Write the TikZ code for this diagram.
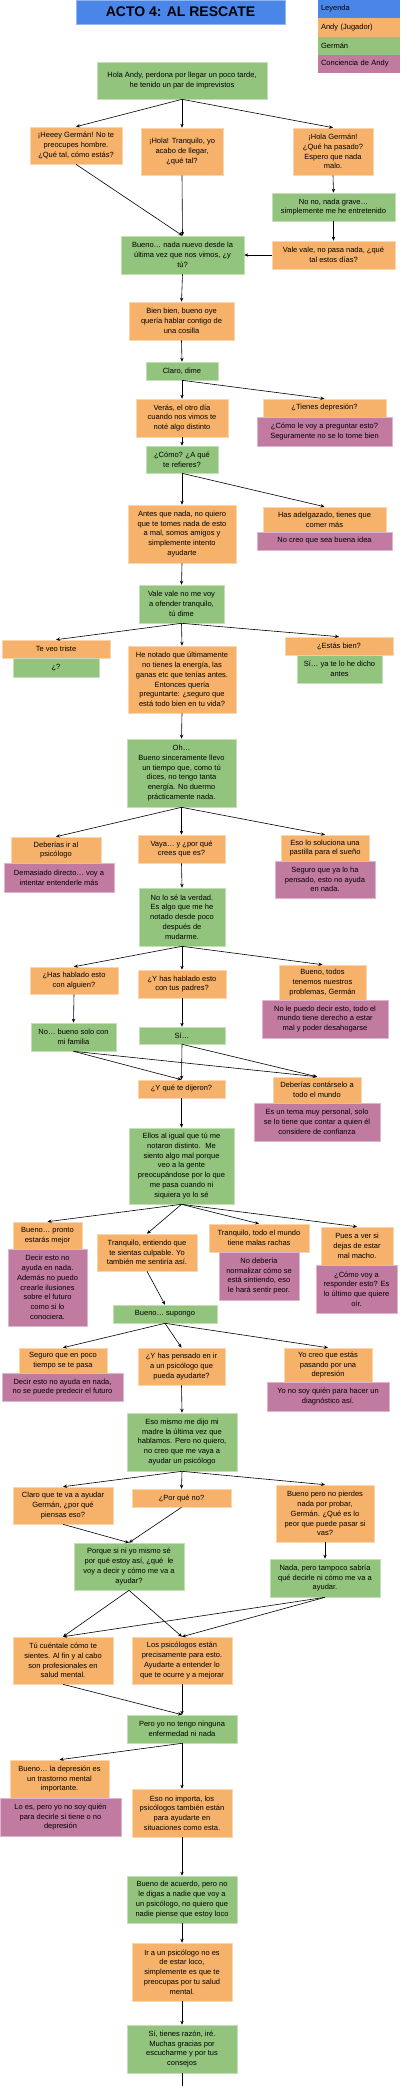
\documentclass[tikz,border=0pt]{standalone}
\usepackage{fontspec}
\setmainfont{Liberation Sans}
\usepackage{tikz}
\usetikzlibrary{arrows.meta}
\definecolor{andyc}{HTML}{F6B26B}
\definecolor{germanc}{HTML}{93C47D}
\definecolor{concc}{HTML}{C27BA0}
\definecolor{titlec}{HTML}{4A86E8}
\begin{document}
\begin{tikzpicture}[x=1pt,y=-1pt,
  box/.style={rectangle,inner sep=0pt,align=center,font=\fontsize{7.5}{9.8}\selectfont},
  sz/.style 2 args={minimum width=#1,minimum height=#2},
  andy/.style={box,fill=andyc,draw=andyc!55!white,line width=0.6pt},
  german/.style={box,fill=germanc,draw=germanc!55!white,line width=0.6pt},
  conc/.style={box,fill=concc,draw=concc!55!white,line width=0.6pt},
  leg/.style={rectangle,inner sep=0pt,text width=76pt,align=left,minimum width=82,font=\fontsize{7.5}{9.8}\selectfont},
  arr/.style={-{Stealth[length=4pt,width=3.4pt]},line width=0.6pt}]
\useasboundingbox (0,0) rectangle (400,2086);
% title and legend
\node[rectangle,fill=titlec,draw=titlec!60!white,sz={209}{24},font=\fontsize{14}{16}\selectfont\bfseries] (title) at (180.5,12) {ACTO 4: AL RESCATE};
\node[leg,fill=titlec,minimum height=18] (leyenda) at (359,9) {Leyenda};
\node[leg,fill=andyc,minimum height=19] (legandy) at (359,27.5) {Andy (Jugador)};
\node[leg,fill=germanc,minimum height=18] (leggerman) at (359,46) {Germán};
\node[leg,fill=concc,minimum height=18] (legconc) at (359,64) {Conciencia de Andy};
% dialogue
\node[german,sz={170}{37}] (hola) at (182,80.5) {Hola Andy, perdona por llegar un poco tarde,\\he tenido un par de imprevistos};
\node[andy,sz={92}{37}] (heeey) at (76,145.5) {¡Heeey Germán! No te\\preocupes hombre.\\¿Qué tal, cómo estás?};
\node[andy,sz={82}{47}] (tranq) at (182,151.5) {¡Hola! Tranquilo, yo\\acabo de llegar,\\¿qué tal?};
\node[andy,sz={80}{47}] (holag) at (333,151.5) {¡Hola Germán!\\¿Qué ha pasado?\\Espero que nada\\malo.};
\node[german,sz={123}{28}] (nono) at (333.5,207) {No no, nada grave…\\simplemente me he entretenido};
\node[andy,sz={123}{28}] (valevale) at (333.5,255) {Vale vale, no pasa nada, ¿qué\\tal estos días?};
\node[german,sz={123}{38}] (bueno) at (182.5,255) {Bueno… nada nuevo desde la\\última vez que nos vimos, ¿y\\tú?};
\node[andy,sz={105}{38}] (bien) at (181.5,321) {Bien bien, bueno oye\\quería hablar contigo de\\una cosilla};
\node[german,sz={72}{18}] (claro) at (182,371) {Claro, dime};
\node[andy,sz={92}{38}] (veras) at (182,418) {Verás, el otro día\\cuando nos vimos te\\noté algo distinto};
\node[andy,sz={123}{18}] (tienes) at (324.5,408) {¿Tienes depresión?};
\node[conc,sz={135}{29}] (tienesc) at (324.5,431.5) {¿Cómo le voy a preguntar esto?\\Seguramente no se lo tome bien};
\node[german,sz={72}{27}] (como) at (182,459.5) {¿Cómo? ¿A qué\\te refieres?};
\node[andy,sz={108}{58}] (antes) at (182,534) {Antes que nada, no quiero\\que te tomes nada de esto\\a mal, somos amigos y\\simplemente intento\\ayudarte};
\node[andy,sz={123}{25}] (adelg) at (324.5,519.5) {Has adelgazado, tienes que\\comer más};
\node[conc,sz={135}{18}] (adelgc) at (324.5,541) {No creo que sea buena idea};
\node[german,sz={85}{38}] (valeno) at (181.5,604) {Vale vale no me voy\\a ofender tranquilo,\\tú dime};
\node[andy,sz={108}{18}] (triste) at (56,649) {Te veo triste};
\node[german,sz={86}{19}] (tristeg) at (56,667.5) {¿?};
\node[andy,sz={108}{67}] (notado) at (182,679.5) {He notado que últimamente\\no tienes la energía, las\\ganas etc que tenías antes.\\Entonces quería\\preguntarte: ¿seguro que\\está todo bien en tu vida?};
\node[andy,sz={108}{18}] (estas) at (339,646) {¿Estás bien?};
\node[german,sz={85}{28}] (estasg) at (339.5,669) {Sí… ya te lo he dicho\\antes};
\node[german,sz={109}{68}] (oh) at (181.5,773) {Oh…\\Bueno sinceramente llevo\\un tiempo que, como tú\\dices, no tengo tanta\\energía. No duermo\\prácticamente nada.};
\node[andy,sz={90}{26}] (psico) at (56,850) {Deberías ir al\\psicólogo};
\node[conc,sz={110}{29}] (psicoc) at (59,877.5) {Demasiado directo… voy a\\intentar entenderle más};
\node[andy,sz={87}{28}] (vaya) at (181.5,849) {Vaya… y ¿por qué\\crees que es?};
\node[andy,sz={88}{26}] (pastilla) at (325,848) {Eso lo soluciona una\\pastilla para el sueño};
\node[conc,sz={100}{37}] (pastillac) at (325,879.5) {Seguro que ya lo ha\\pensado, esto no ayuda\\en nada.};
\node[german,sz={86}{58}] (nolose) at (182,917) {No lo sé la verdad.\\Es algo que me he\\notado desde poco\\después de\\mudarme.};
\node[andy,sz={88}{27}] (alguien) at (74,980.5) {¿Has hablado esto\\con alguien?};
\node[andy,sz={88}{28}] (padres) at (182,984) {¿Y has hablado esto\\con tus padres?};
\node[andy,sz={87}{35}] (todos) at (322.5,982.5) {Bueno, todos\\tenemos nuestros\\problemas, Germán};
\node[conc,sz={126}{38}] (todosc) at (325,1019) {No le puedo decir esto, todo el\\mundo tiene derecho a estar\\mal y poder desahogarse};
\node[german,sz={85}{28}] (familia) at (73.5,1037) {No… bueno solo con\\mi familia};
\node[german,sz={86}{17}] (si) at (182,1035.5) {Sí…};
\node[andy,sz={87}{18}] (dijeron) at (181.5,1089) {¿Y qué te dijeron?};
\node[andy,sz={88}{26}] (contar) at (317,1090) {Deberías contárselo a\\todo el mundo};
\node[conc,sz={126}{38}] (contarc) at (317,1122) {Es un tema muy personal, solo\\se lo tiene que contar a quien él\\considere de confianza};
\node[german,sz={105}{76}] (ellos) at (181.5,1166) {Ellos al igual que tú me\\notaron distinto.~ Me\\siento algo mal porque\\veo a la gente\\preocupándose por lo que\\me pasa cuando ni\\siquiera yo lo sé};
\node[andy,sz={69}{27}] (pronto) at (47.5,1235.5) {Bueno… pronto\\estarás mejor};
\node[conc,sz={79}{77}] (prontoc) at (47.5,1287.5) {Decir esto no\\ayuda en nada.\\Además no puedo\\crearle ilusiones\\sobre el futuro\\como si lo\\conociera.};
\node[andy,sz={100}{37}] (culpable) at (147,1252.5) {Tranquilo, entiendo que\\te sientas culpable. Yo\\también me sentiría así.};
\node[andy,sz={100}{28}] (rachas) at (259,1238) {Tranquilo, todo el mundo\\tiene malas rachas};
\node[conc,sz={80}{48}] (rachasc) at (259,1276) {No debería\\normalizar cómo se\\está sintiendo, eso\\le hará sentir peor.};
\node[andy,sz={72}{38}] (macho) at (357,1246) {Pues a ver si\\dejas de estar\\mal macho.};
\node[conc,sz={81}{48}] (machoc) at (356.5,1289) {¿Cómo voy a\\responder esto? Es\\lo último que quiere\\oír.};
\node[german,sz={104}{18}] (supongo) at (165,1314) {Bueno… supongo};
\node[andy,sz={88}{25}] (pasa) at (63,1360.5) {Seguro que en poco\\tiempo se te pasa};
\node[conc,sz={121}{28}] (pasac) at (62.5,1387) {Decir esto no ayuda en nada,\\no se puede predecir el futuro};
\node[andy,sz={87}{37}] (pensado) at (181.5,1366.5) {¿Y has pensado en ir\\a un psicólogo que\\pueda ayudarte?};
\node[andy,sz={88}{34}] (depre) at (328,1365) {Yo creo que estás\\pasando por una\\depresión};
\node[conc,sz={122}{29}] (deprec) at (328,1396.5) {Yo no soy quién para hacer un\\diagnóstico así.};
\node[german,sz={110}{58}] (madre) at (182,1442) {Eso mismo me dijo mi\\madre la última vez que\\hablamos. Pero no quiero,\\no creo que me vaya a\\ayudar un psicólogo};
\node[andy,sz={100}{37}] (ayudar) at (63,1505.5) {Claro que te va a ayudar\\Germán, ¿por qué\\piensas eso?};
\node[andy,sz={99}{18}] (porque) at (181.5,1498) {¿Por qué no?};
\node[andy,sz={98}{57}] (probar) at (325,1513.5) {Bueno pero no pierdes\\nada por probar,\\Germán. ¿Qué es lo\\peor que puede pasar si\\vas?};
\node[german,sz={110}{47}] (nisiquiera) at (129,1566.5) {Porque si ni yo mismo sé\\por qué estoy así, ¿qué~ le\\voy a decir y cómo me va a\\ayudar?};
\node[german,sz={110}{38}] (sabria) at (325,1578) {Nada, pero tampoco sabría\\qué decirle ni cómo me va a\\ayudar.};
\node[andy,sz={100}{47}] (cuentale) at (63,1660.5) {Tú cuéntale cómo te\\sientes. Al fin y al cabo\\son profesionales en\\salud mental.};
\node[andy,sz={100}{47}] (estan) at (182,1660.5) {Los psicólogos están\\precisamente para esto.\\Ayudarte a entender lo\\que te ocurre y a mejorar};
\node[german,sz={110}{28}] (enfermedad) at (182,1729) {Pero yo no tengo ninguna\\enfermedad ni nada};
\node[andy,sz={99}{38}] (trastorno) at (59.5,1779) {Bueno… la depresión es\\un trastorno mental\\importante.};
\node[conc,sz={121}{38}] (trastornoc) at (60.5,1817) {Lo es, pero yo no soy quién\\para decirle si tiene o no\\depresión};
\node[andy,sz={100}{48}] (importa) at (182,1813) {Eso no importa, los\\psicólogos también están\\para ayudarte en\\situaciones como esta.};
\node[german,sz={110}{47}] (acuerdo) at (182,1899.5) {Bueno de acuerdo, pero no\\le digas a nadie que voy a\\un psicólogo, no quiero que\\nadie piense que estoy loco};
\node[andy,sz={100}{58}] (loco) at (182,1972) {Ir a un psicólogo no es\\de estar loco,\\simplemente es que te\\preocupas por tu salud\\mental.};
\node[german,sz={110}{48}] (razon) at (182,2049) {Sí, tienes razón, iré.\\Muchas gracias por\\escucharme y por tus\\consejos};
\coordinate (fin) at (182,2086);
% connectors
\foreach \a/\b in {hola/heeey,hola/tranq,hola/holag,heeey/bueno,tranq/bueno,
  holag/nono,nono/valevale,bueno/bien,bien/claro,claro/veras,claro/tienes,
  veras/como,como/antes,como/adelg,antes/valeno,valeno/triste,valeno/notado,
  valeno/estas,notado/oh,oh/psico,oh/vaya,oh/pastilla,vaya/nolose,
  nolose/alguien,nolose/padres,nolose/todos,alguien/familia,padres/si,
  familia/dijeron,familia/contar,si/dijeron,si/contar,dijeron/ellos,
  ellos/pronto,ellos/culpable,ellos/rachas,ellos/macho,culpable/supongo,
  supongo/pasa,supongo/pensado,supongo/depre,pensado/madre,madre/ayudar,
  madre/porque,madre/probar,ayudar/nisiquiera,porque/nisiquiera,probar/sabria,
  nisiquiera/cuentale,nisiquiera/estan,sabria/cuentale,sabria/estan,
  cuentale/enfermedad,estan/enfermedad,enfermedad/trastorno,enfermedad/importa,
  importa/acuerdo,acuerdo/loco,loco/razon}
  \draw[arr] (\a.south) -- (\b.north);
\draw[arr] (valevale.west) -- (bueno.east);
\draw[line width=0.6pt] (razon.south) -- (fin);
\end{tikzpicture}
\end{document}
